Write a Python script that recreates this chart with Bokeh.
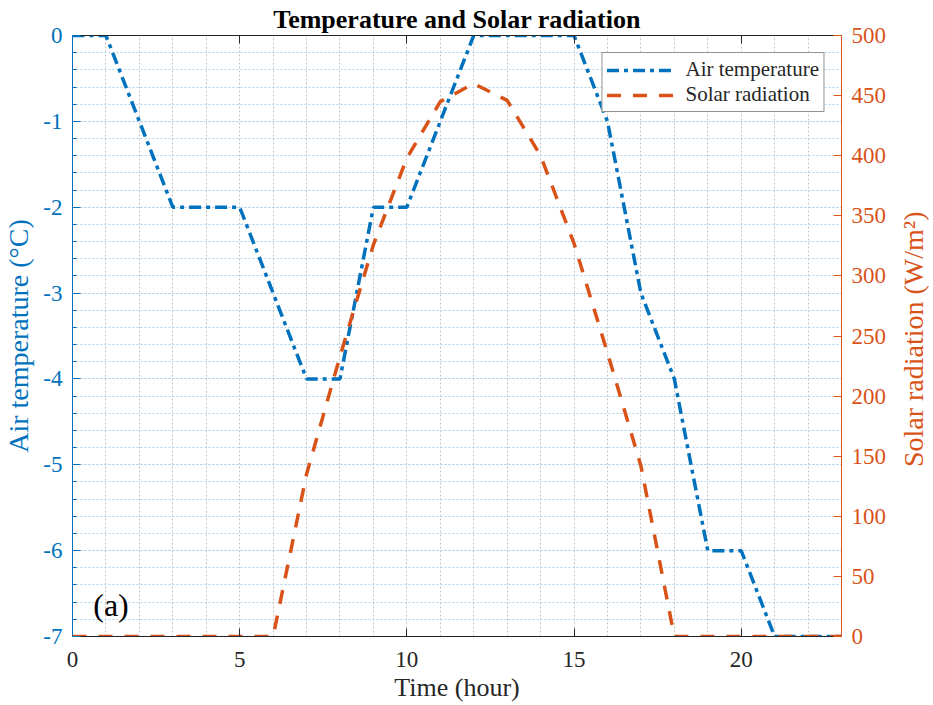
import math
from bokeh.plotting import figure
from bokeh.layouts import row
from bokeh.models import (LinearAxis, Range1d, SingleIntervalTicker, Label,
                          Legend, LegendItem, ColumnDataSource, PrintfTickFormatter)
from bokeh.embed import file_html
from bokeh.resources import INLINE

# ---- data ----
hours = list(range(24))
air_temp = [0, 0, -1, -2, -2, -2, -3, -4, -4, -2, -2, -1,
            0, 0, 0, 0, -1, -3, -4, -6, -6, -7, -7, -7]
solar_rad = [0, 0, 0, 0, 0, 0, 0, 135, 233, 326, 398, 445,
             460, 446, 400, 327, 236, 142, 0, 0, 0, 0, 0, 0]
x_ticks_interval = 5
left_tick_interval = 1
right_tick_interval = 50

BLUE = "#0072BD"
ORANGE = "#D95319"
DARK = "#262626"
FONT = "Liberation Serif"

src = ColumnDataSource(dict(h=hours, t=air_temp, s=solar_rad))

p = figure(frame_width=769, frame_height=601,
           x_range=Range1d(0, 23), y_range=Range1d(-7, 0),
           output_backend="svg", toolbar_location=None,
           min_border_left=65, min_border_right=47,
           min_border_top=10, min_border_bottom=10)
p.extra_y_ranges = {"solar": Range1d(0, 500)}

p.title.text = "Temperature and Solar radiation"
p.title.align = "center"
p.title.text_font = FONT
p.title.text_font_style = "bold"
p.title.text_font_size = "26px"
p.title.text_color = "black"
p.title.standoff = 4

p.outline_line_color = DARK
p.outline_line_width = 1
p.background_fill_color = "white"
p.border_fill_color = "white"

# grids
p.xgrid.ticker = SingleIntervalTicker(interval=1, num_minor_ticks=0)
p.xgrid.grid_line_color = "#c4c4c4"
p.xgrid.grid_line_dash = "2 2"
p.xgrid.grid_line_width = 1

# bottom axis
xa = p.xaxis[0]
xa.ticker = SingleIntervalTicker(interval=x_ticks_interval, num_minor_ticks=0)
xa.formatter = PrintfTickFormatter(format="%d")
xa.axis_label = "Time (hour)"
xa.axis_label_text_font = FONT
xa.axis_label_text_font_size = "26px"
xa.axis_label_text_font_style = "normal"
xa.axis_label_text_color = DARK
xa.axis_label_standoff = 3
xa.major_label_text_font = FONT
xa.major_label_text_font_size = "23px"
xa.major_label_text_color = DARK
xa.major_label_standoff = 15
xa.major_tick_in = 8
xa.major_tick_out = 0
xa.minor_tick_line_color = None
xa.axis_line_color = DARK
xa.major_tick_line_color = DARK

# left axis
ya = p.yaxis[0]
ya.ticker = SingleIntervalTicker(interval=left_tick_interval, num_minor_ticks=5)
ya.formatter = PrintfTickFormatter(format="%d")
ya.axis_label = "Air temperature (°C)"
ya.axis_label_text_font = FONT
ya.axis_label_text_font_size = "28px"
ya.axis_label_text_font_style = "normal"
ya.axis_label_text_color = BLUE
ya.axis_label_standoff = 6
ya.major_label_text_font = FONT
ya.major_label_text_font_size = "23px"
ya.major_label_text_color = BLUE
ya.major_label_standoff = 10
ya.major_tick_in = 8
ya.major_tick_out = 0
ya.minor_tick_in = 4
ya.minor_tick_out = 0
ya.axis_line_color = BLUE
ya.major_tick_line_color = BLUE
ya.minor_tick_line_color = BLUE

p.ygrid.grid_line_color = "#b0d0ea"
p.ygrid.grid_line_dash = "2 2"
p.ygrid.minor_grid_line_color = "#b0d0ea"
p.ygrid.minor_grid_line_dash = "2 2"

# right axis
ra = LinearAxis(y_range_name="solar",
                ticker=SingleIntervalTicker(interval=right_tick_interval, num_minor_ticks=0))
ra.formatter = PrintfTickFormatter(format="%d")
ra.major_label_text_font = FONT
ra.major_label_text_font_size = "23px"
ra.major_label_text_color = ORANGE
ra.major_label_standoff = 10
ra.major_tick_in = 8
ra.major_tick_out = 0
ra.minor_tick_line_color = None
ra.axis_line_color = ORANGE
ra.major_tick_line_color = ORANGE
p.add_layout(ra, "right")

# top axis (ticks only, labels not painted)
ta = LinearAxis(ticker=SingleIntervalTicker(interval=x_ticks_interval, num_minor_ticks=0))
ta.major_label_text_font_size = "1px"
ta.major_label_text_color = None
ta.major_label_standoff = 0
ta.major_tick_in = 8
ta.major_tick_out = 0
ta.minor_tick_line_color = None
ta.axis_line_color = DARK
ta.major_tick_line_color = DARK
p.add_layout(ta, "above")

r1 = p.line("h", "t", source=src, line_color=BLUE, line_width=3.5,
            line_dash="12 5 4 5")
r2 = p.line("h", "s", source=src, y_range_name="solar", line_color=ORANGE,
            line_width=3.5, line_dash="14 12")

legend = Legend(items=[LegendItem(label="Air temperature", renderers=[r1]),
                       LegendItem(label="Solar radiation", renderers=[r2])],
                location="top_right")
legend.margin = 17
legend.padding = 4
legend.spacing = 0
legend.glyph_width = 69
legend.glyph_height = 18
legend.label_height = 18
legend.label_standoff = 10
legend.label_text_font = FONT
legend.label_text_font_size = "21px"
legend.label_text_color = DARK
legend.border_line_color = DARK
legend.border_line_width = 1
legend.background_fill_color = "white"
legend.background_fill_alpha = 1
p.add_layout(legend)

p.add_layout(Label(x=0.62, y=-6.63, text="(a)", text_font=FONT,
                   text_font_size="32px", text_baseline="middle",
                   text_color="black"))

# narrow strip on the right holding the right-axis title, reading upwards
STRIP_W, STRIP_H = 40, 680
q = figure(width=STRIP_W, height=STRIP_H,
           x_range=Range1d(0, STRIP_W), y_range=Range1d(STRIP_H, 0),
           x_axis_type=None, y_axis_type=None,
           output_backend="svg", toolbar_location=None,
           min_border=0)
q.outline_line_color = None
q.background_fill_color = "white"
q.border_fill_color = "white"
q.add_layout(Label(x=24, y=358, text="Solar radiation (W/m²)",
                   angle=math.pi / 2, text_font=FONT, text_font_size="28px",
                   text_align="center", text_baseline="middle",
                   text_color=ORANGE))

layout = row(p, q)
open("out.html", "w").write(file_html(layout, INLINE))
